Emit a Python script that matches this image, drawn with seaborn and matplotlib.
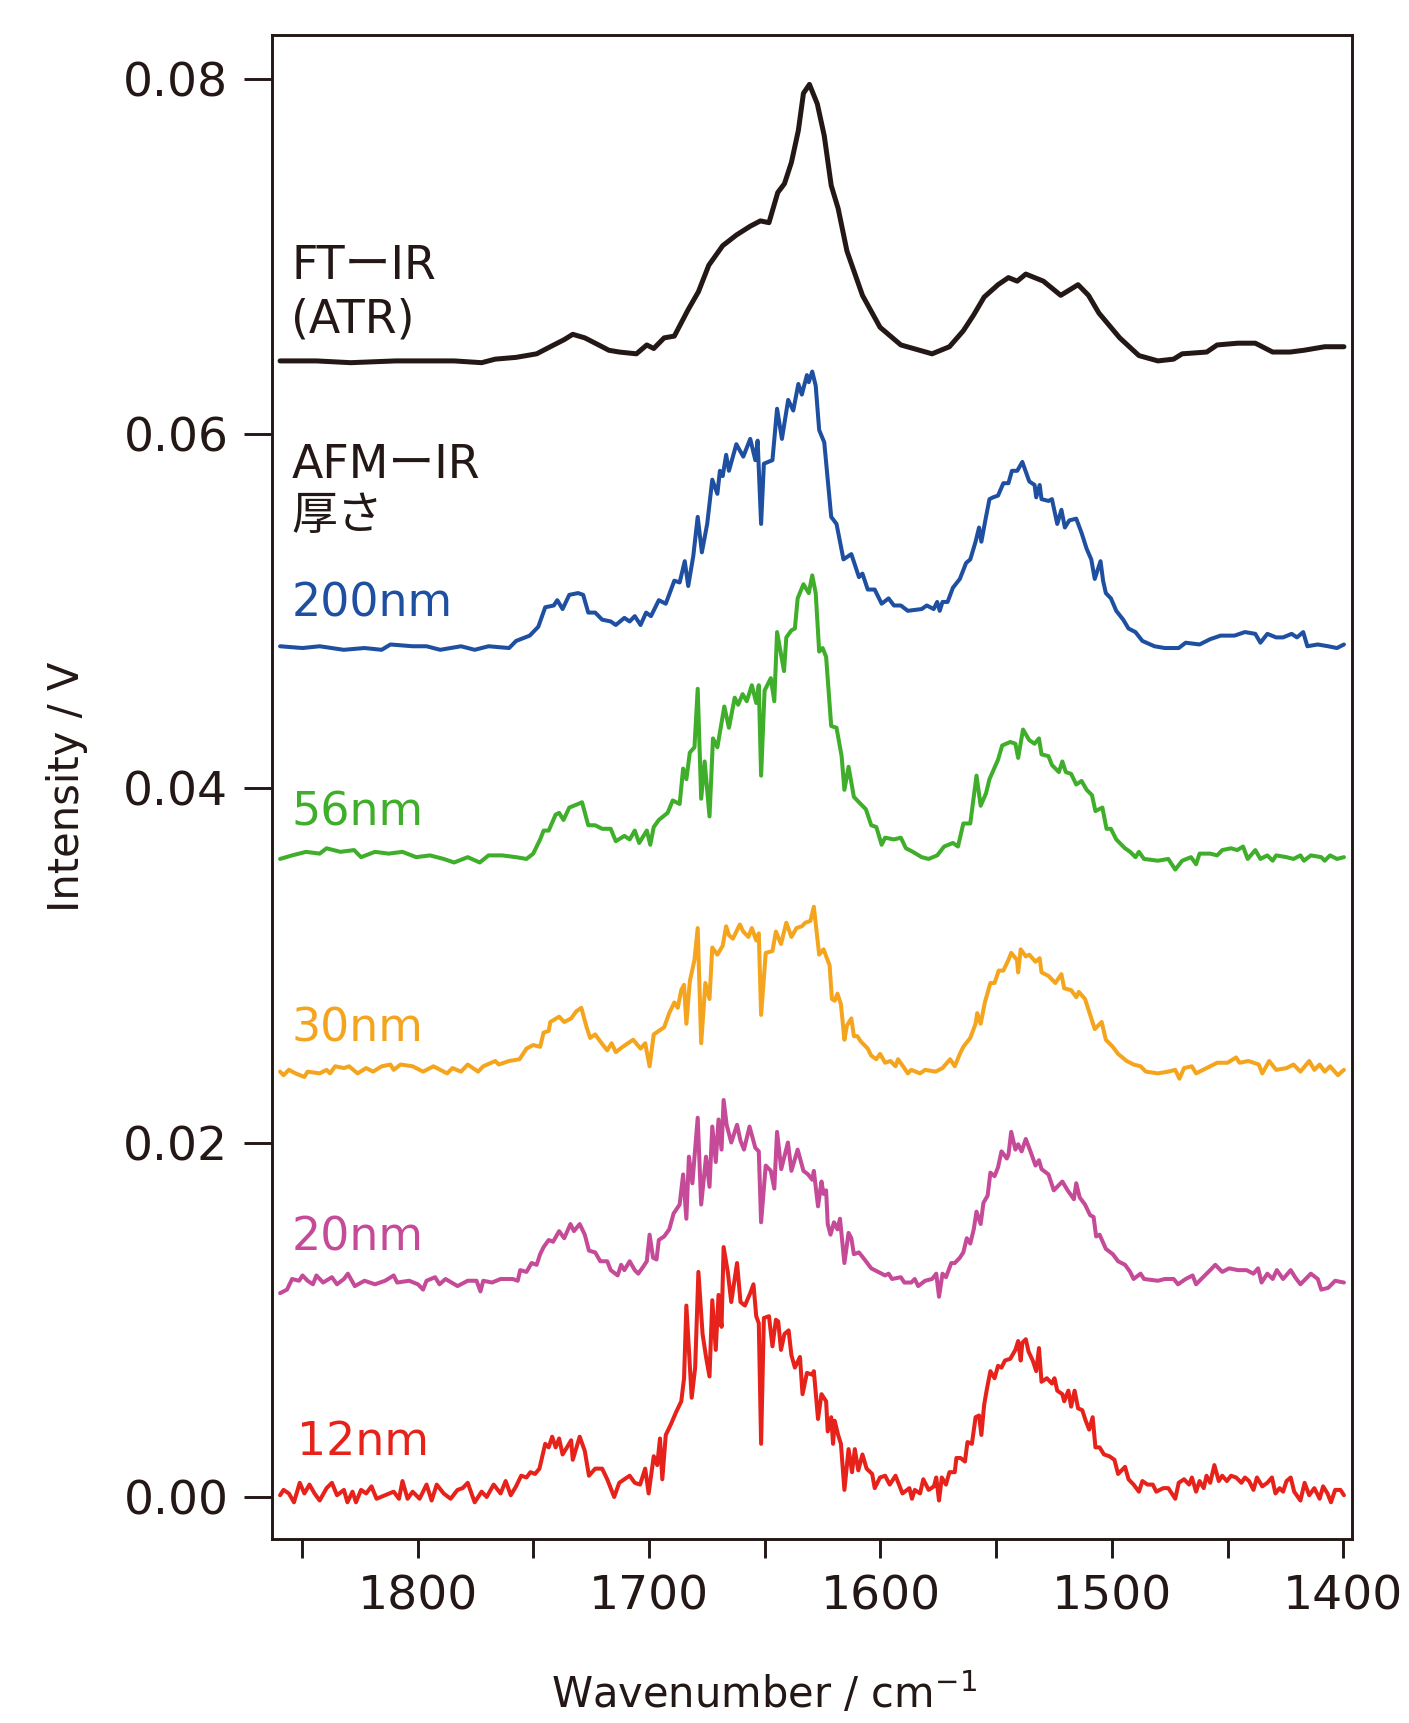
import pandas as pd
import seaborn as sns
import matplotlib
matplotlib.use('Agg')
import matplotlib.pyplot as plt
from matplotlib.ticker import MultipleLocator, FormatStrFormatter

# (wavenumber, intensity) pairs
ftir = [(1859.5, 0.0641), (1843.8, 0.0641), (1829.0, 0.0640), (1809.6, 0.0641), (1794.7, 0.0641),
        (1784.3, 0.0641), (1772.4, 0.0640), (1766.5, 0.0642), (1757.5, 0.0643), (1748.6, 0.0645),
        (1742.7, 0.0649), (1736.7, 0.0653), (1733.0, 0.0656), (1727.8, 0.0654), (1721.8, 0.0650),
        (1717.4, 0.0647), (1712.9, 0.0646), (1705.5, 0.0645), (1701.0, 0.0650), (1698.0, 0.0648),
        (1693.5, 0.0654), (1689.1, 0.0655), (1683.1, 0.0670), (1678.7, 0.0680), (1674.2, 0.0695),
        (1668.2, 0.0706), (1662.3, 0.0712), (1656.3, 0.0717), (1651.9, 0.0720), (1648.2, 0.0719),
        (1644.4, 0.0736), (1641.5, 0.0741), (1638.5, 0.0753), (1635.5, 0.0771), (1633.3, 0.0792),
        (1630.7, 0.0797), (1627.3, 0.0786), (1624.3, 0.0768), (1621.3, 0.0740), (1618.3, 0.0727),
        (1614.5, 0.0703), (1607.8, 0.0678), (1600.2, 0.0660), (1591.2, 0.0650), (1577.7, 0.0645),
        (1570.2, 0.0649), (1564.2, 0.0658), (1559.7, 0.0667), (1555.2, 0.0677), (1549.2, 0.0684),
        (1544.7, 0.0688), (1540.9, 0.0686), (1537.2, 0.0690), (1529.6, 0.0686), (1522.1, 0.0678),
        (1514.6, 0.0684), (1510.1, 0.0678), (1505.6, 0.0668), (1496.6, 0.0654), (1488.3, 0.0644),
        (1480.1, 0.0641), (1473.3, 0.0642), (1469.6, 0.0645), (1459.0, 0.0646), (1454.5, 0.0650),
        (1445.5, 0.0651), (1438.0, 0.0651), (1430.5, 0.0646), (1423.0, 0.0646), (1417.0, 0.0647),
        (1408.0, 0.0649), (1399.7, 0.0649)]

afm_200 = [(1859.5, 0.0480), (1849.8, 0.0479), (1842.4, 0.0480), (1832.0, 0.0478), (1823.0, 0.0479),
           (1815.6, 0.0478), (1811.8, 0.0481), (1802.2, 0.0480), (1796.2, 0.0480), (1790.3, 0.0478),
           (1781.3, 0.0480), (1775.4, 0.0478), (1769.4, 0.0480), (1760.5, 0.0479), (1757.5, 0.0483),
           (1751.6, 0.0486), (1747.9, 0.0491), (1744.9, 0.0502), (1741.2, 0.0503), (1739.7, 0.0506),
           (1737.4, 0.0501), (1734.5, 0.0509), (1730.7, 0.0510), (1728.5, 0.0509), (1726.3, 0.0499),
           (1723.3, 0.0499), (1720.3, 0.0495), (1716.6, 0.0494), (1714.4, 0.0492), (1710.7, 0.0496),
           (1708.4, 0.0494), (1706.2, 0.0497), (1703.7, 0.0492), (1701.3, 0.0499), (1699.2, 0.0497),
           (1695.8, 0.0506), (1692.8, 0.0504), (1689.1, 0.0517), (1686.8, 0.0516), (1684.6, 0.0528),
           (1683.1, 0.0514), (1680.9, 0.0531), (1679.0, 0.0553), (1677.2, 0.0533), (1674.9, 0.0549),
           (1672.7, 0.0574), (1670.5, 0.0566), (1669.4, 0.0579), (1668.2, 0.0576), (1666.7, 0.0588),
           (1665.5, 0.0579), (1662.3, 0.0594), (1659.3, 0.0587), (1656.3, 0.0597), (1654.1, 0.0585),
           (1653.1, 0.0596), (1651.6, 0.0549), (1650.4, 0.0583), (1646.7, 0.0585), (1644.7, 0.0614),
           (1642.6, 0.0597), (1639.9, 0.0619), (1637.7, 0.0613), (1635.5, 0.0628), (1634.0, 0.0622),
           (1631.8, 0.0633), (1631.0, 0.0629), (1629.5, 0.0635), (1628.0, 0.0627), (1626.5, 0.0602),
           (1624.3, 0.0595), (1621.3, 0.0553), (1619.0, 0.0549), (1616.0, 0.0529), (1612.6, 0.0532),
           (1609.3, 0.0519), (1607.8, 0.0521), (1605.5, 0.0512), (1602.5, 0.0512), (1599.5, 0.0504),
           (1596.5, 0.0507), (1594.2, 0.0503), (1591.2, 0.0503), (1588.2, 0.0500), (1582.2, 0.0501),
           (1580.0, 0.0503), (1577.0, 0.0501), (1575.5, 0.0505), (1574.4, 0.0500), (1573.2, 0.0505),
           (1571.0, 0.0505), (1568.7, 0.0513), (1565.7, 0.0518), (1563.0, 0.0527), (1561.2, 0.0529),
           (1558.9, 0.0539), (1557.4, 0.0547), (1556.4, 0.0539), (1554.4, 0.0553), (1552.9, 0.0563),
           (1551.4, 0.0564), (1549.2, 0.0565), (1546.9, 0.0572), (1544.7, 0.0572), (1543.2, 0.0579),
           (1540.9, 0.0579), (1538.7, 0.0584), (1535.7, 0.0573), (1533.4, 0.0571), (1532.7, 0.0564),
           (1531.2, 0.0571), (1530.4, 0.0563), (1527.4, 0.0562), (1525.9, 0.0563), (1523.6, 0.0549),
           (1521.8, 0.0557), (1520.3, 0.0547), (1518.4, 0.0551), (1515.4, 0.0552), (1513.1, 0.0544),
           (1510.9, 0.0535), (1508.9, 0.0529), (1507.4, 0.0518), (1504.9, 0.0528), (1503.8, 0.0517),
           (1502.6, 0.0510), (1500.4, 0.0507), (1498.1, 0.0500), (1495.1, 0.0495), (1492.8, 0.0490),
           (1489.8, 0.0488), (1486.8, 0.0483), (1481.6, 0.0480), (1477.1, 0.0479), (1471.1, 0.0479),
           (1468.1, 0.0482), (1462.1, 0.0481), (1457.5, 0.0484), (1453.0, 0.0486), (1447.0, 0.0486),
           (1442.5, 0.0488), (1438.0, 0.0487), (1435.8, 0.0482), (1432.8, 0.0487), (1429.0, 0.0485),
           (1426.0, 0.0485), (1422.3, 0.0487), (1420.0, 0.0485), (1417.3, 0.0488), (1415.5, 0.0480),
           (1411.0, 0.0481), (1406.5, 0.0480), (1402.7, 0.0479), (1399.7, 0.0481)]

afm_56 = [(1859.5, 0.0360), (1854.3, 0.0362), (1848.3, 0.0364), (1842.4, 0.0363), (1839.4, 0.0366),
          (1833.4, 0.0364), (1827.5, 0.0365), (1824.5, 0.0361), (1818.5, 0.0364), (1812.6, 0.0363),
          (1806.6, 0.0364), (1800.7, 0.0361), (1794.7, 0.0362), (1788.8, 0.0360), (1784.3, 0.0358),
          (1778.4, 0.0361), (1773.2, 0.0358), (1769.4, 0.0362), (1763.5, 0.0362), (1757.5, 0.0361),
          (1753.0, 0.0360), (1750.1, 0.0363), (1747.1, 0.0371), (1745.6, 0.0376), (1743.4, 0.0376),
          (1740.4, 0.0385), (1738.9, 0.0386), (1737.0, 0.0382), (1734.5, 0.0389), (1730.7, 0.0391),
          (1729.0, 0.0392), (1726.3, 0.0379), (1723.3, 0.0379), (1720.3, 0.0377), (1716.6, 0.0377),
          (1714.4, 0.0370), (1710.7, 0.0373), (1708.4, 0.0371), (1706.2, 0.0376), (1704.3, 0.0369),
          (1701.0, 0.0376), (1699.5, 0.0368), (1698.0, 0.0378), (1695.8, 0.0382), (1692.0, 0.0386),
          (1689.8, 0.0393), (1686.8, 0.0391), (1685.3, 0.0411), (1683.9, 0.0405), (1682.4, 0.0420),
          (1680.4, 0.0423), (1679.0, 0.0456), (1677.5, 0.0394), (1676.0, 0.0415), (1673.9, 0.0384),
          (1672.4, 0.0428), (1670.5, 0.0423), (1667.5, 0.0446), (1665.5, 0.0434), (1663.0, 0.0451),
          (1661.5, 0.0447), (1659.6, 0.0453), (1657.8, 0.0449), (1655.6, 0.0458), (1653.7, 0.0448),
          (1652.6, 0.0458), (1651.6, 0.0407), (1650.1, 0.0455), (1647.4, 0.0462), (1645.9, 0.0449),
          (1644.7, 0.0488), (1641.7, 0.0466), (1640.7, 0.0485), (1638.5, 0.0489), (1637.0, 0.0490),
          (1635.8, 0.0507), (1633.3, 0.0515), (1631.0, 0.0510), (1629.5, 0.0520), (1628.0, 0.0510),
          (1626.5, 0.0477), (1625.0, 0.0479), (1623.5, 0.0474), (1621.3, 0.0435), (1619.0, 0.0434),
          (1616.8, 0.0418), (1615.6, 0.0399), (1613.8, 0.0412), (1611.5, 0.0395), (1609.3, 0.0392),
          (1606.3, 0.0388), (1604.0, 0.0379), (1601.8, 0.0378), (1599.5, 0.0368), (1598.0, 0.0372),
          (1594.2, 0.0371), (1591.2, 0.0372), (1589.0, 0.0366), (1586.0, 0.0364), (1582.2, 0.0361),
          (1579.2, 0.0360), (1575.5, 0.0362), (1572.5, 0.0367), (1568.7, 0.0369), (1566.5, 0.0367),
          (1564.2, 0.0380), (1561.2, 0.0380), (1558.5, 0.0407), (1556.7, 0.0390), (1554.4, 0.0397),
          (1552.9, 0.0405), (1549.2, 0.0416), (1547.4, 0.0424), (1543.9, 0.0426), (1541.7, 0.0425),
          (1540.5, 0.0417), (1538.4, 0.0433), (1535.7, 0.0427), (1533.4, 0.0425), (1531.5, 0.0428),
          (1530.4, 0.0419), (1527.4, 0.0418), (1525.9, 0.0413), (1522.9, 0.0409), (1521.4, 0.0415),
          (1519.9, 0.0409), (1517.6, 0.0408), (1515.4, 0.0402), (1513.1, 0.0404), (1510.9, 0.0399),
          (1508.6, 0.0396), (1507.1, 0.0387), (1504.1, 0.0389), (1502.3, 0.0377), (1500.4, 0.0377),
          (1498.1, 0.0371), (1494.3, 0.0366), (1492.1, 0.0364), (1489.8, 0.0361), (1488.3, 0.0364),
          (1486.1, 0.0360), (1480.1, 0.0359), (1475.6, 0.0360), (1472.6, 0.0354), (1469.6, 0.0359),
          (1465.8, 0.0361), (1463.6, 0.0357), (1462.1, 0.0363), (1457.5, 0.0363), (1454.5, 0.0362),
          (1452.3, 0.0365), (1448.5, 0.0366), (1445.8, 0.0365), (1443.3, 0.0367), (1441.3, 0.0360),
          (1438.0, 0.0365), (1435.8, 0.0360), (1432.8, 0.0362), (1430.5, 0.0359), (1429.0, 0.0362),
          (1424.5, 0.0361), (1421.5, 0.0360), (1418.5, 0.0362), (1417.0, 0.0359), (1414.0, 0.0362),
          (1409.5, 0.0361), (1408.0, 0.0359), (1405.7, 0.0362), (1402.7, 0.0360), (1399.7, 0.0361)]

afm_30 = [(1859.5, 0.0240), (1858.0, 0.0238), (1855.7, 0.0241), (1852.8, 0.0239), (1849.0, 0.0237),
          (1847.6, 0.0240), (1842.4, 0.0239), (1839.4, 0.0241), (1837.9, 0.0239), (1835.7, 0.0243),
          (1831.9, 0.0242), (1829.7, 0.0243), (1826.0, 0.0239), (1822.3, 0.0242), (1819.3, 0.0240),
          (1815.6, 0.0243), (1811.8, 0.0244), (1810.4, 0.0241), (1807.4, 0.0244), (1802.2, 0.0243),
          (1797.7, 0.0240), (1793.2, 0.0243), (1790.3, 0.0241), (1787.3, 0.0239), (1785.0, 0.0242),
          (1781.3, 0.0240), (1778.4, 0.0244), (1773.9, 0.0240), (1771.7, 0.0243), (1766.5, 0.0246),
          (1765.0, 0.0244), (1760.5, 0.0246), (1756.0, 0.0247), (1753.0, 0.0253), (1750.1, 0.0255),
          (1747.1, 0.0254), (1745.6, 0.0262), (1743.4, 0.0263), (1742.7, 0.0268), (1738.9, 0.0271),
          (1736.7, 0.0268), (1733.7, 0.0270), (1731.5, 0.0274), (1729.3, 0.0276), (1727.0, 0.0265),
          (1725.5, 0.0259), (1723.3, 0.0261), (1721.1, 0.0257), (1718.1, 0.0252), (1716.2, 0.0256),
          (1714.4, 0.0251), (1711.4, 0.0254), (1706.9, 0.0258), (1703.7, 0.0253), (1701.7, 0.0256),
          (1699.8, 0.0243), (1698.0, 0.0261), (1695.8, 0.0263), (1693.5, 0.0265), (1691.3, 0.0273),
          (1689.1, 0.0279), (1687.6, 0.0276), (1686.1, 0.0286), (1684.9, 0.0289), (1683.9, 0.0267),
          (1682.4, 0.0291), (1680.4, 0.0303), (1679.0, 0.0321), (1677.5, 0.0256), (1675.7, 0.0290),
          (1673.9, 0.0281), (1672.7, 0.0310), (1670.5, 0.0306), (1668.2, 0.0311), (1666.7, 0.0322),
          (1665.5, 0.0317), (1663.8, 0.0315), (1660.8, 0.0323), (1659.3, 0.0319), (1657.1, 0.0316),
          (1655.6, 0.0321), (1653.7, 0.0314), (1652.6, 0.0318), (1651.6, 0.0272), (1649.6, 0.0307),
          (1646.7, 0.0308), (1645.2, 0.0319), (1643.0, 0.0312), (1640.7, 0.0324), (1638.5, 0.0316),
          (1636.3, 0.0321), (1634.0, 0.0322), (1632.5, 0.0324), (1630.3, 0.0325), (1628.8, 0.0333),
          (1626.5, 0.0306), (1624.6, 0.0309), (1622.0, 0.0300), (1621.0, 0.0281), (1619.8, 0.0280),
          (1618.6, 0.0284), (1617.1, 0.0278), (1615.6, 0.0258), (1614.5, 0.0266), (1612.6, 0.0270),
          (1611.5, 0.0260), (1610.0, 0.0260), (1608.5, 0.0257), (1605.5, 0.0253), (1604.0, 0.0249),
          (1601.8, 0.0247), (1600.2, 0.0250), (1598.0, 0.0245), (1595.7, 0.0246), (1593.5, 0.0243),
          (1592.4, 0.0247), (1589.7, 0.0242), (1588.2, 0.0239), (1586.7, 0.0241), (1582.9, 0.0239),
          (1580.7, 0.0241), (1576.2, 0.0240), (1573.2, 0.0242), (1569.9, 0.0247), (1567.9, 0.0243),
          (1565.7, 0.0250), (1564.2, 0.0254), (1561.2, 0.0259), (1558.9, 0.0267), (1558.2, 0.0273),
          (1556.7, 0.0267), (1554.9, 0.0279), (1552.5, 0.0290), (1550.7, 0.0290), (1548.9, 0.0297),
          (1546.9, 0.0297), (1544.7, 0.0303), (1543.5, 0.0307), (1541.0, 0.0303), (1540.5, 0.0296),
          (1539.4, 0.0309), (1537.2, 0.0305), (1535.7, 0.0306), (1533.0, 0.0302), (1531.2, 0.0304),
          (1530.4, 0.0296), (1527.4, 0.0294), (1524.4, 0.0290), (1521.8, 0.0295), (1520.6, 0.0287),
          (1517.6, 0.0286), (1515.4, 0.0282), (1514.3, 0.0285), (1511.6, 0.0281), (1509.4, 0.0272),
          (1507.4, 0.0264), (1504.4, 0.0268), (1502.6, 0.0258), (1499.6, 0.0254), (1497.3, 0.0250),
          (1493.6, 0.0246), (1490.6, 0.0244), (1487.6, 0.0243), (1485.3, 0.0240), (1480.1, 0.0239),
          (1475.6, 0.0240), (1472.6, 0.0241), (1470.8, 0.0236), (1468.8, 0.0242), (1465.4, 0.0243),
          (1463.6, 0.0239), (1459.1, 0.0242), (1454.5, 0.0245), (1450.0, 0.0245), (1446.3, 0.0248),
          (1444.8, 0.0245), (1441.0, 0.0246), (1436.5, 0.0244), (1435.0, 0.0239), (1432.0, 0.0246),
          (1429.0, 0.0241), (1424.5, 0.0242), (1421.5, 0.0244), (1418.5, 0.0240), (1414.7, 0.0246),
          (1412.5, 0.0241), (1410.2, 0.0244), (1408.0, 0.0240), (1405.7, 0.0243), (1402.3, 0.0238),
          (1399.7, 0.0241)]

afm_20 = [(1859.5, 0.0115), (1856.5, 0.0117), (1854.3, 0.0123), (1851.3, 0.0122), (1849.8, 0.0125),
          (1847.6, 0.0122), (1845.3, 0.0120), (1843.8, 0.0125), (1840.9, 0.0121), (1837.1, 0.0124),
          (1834.9, 0.0120), (1831.9, 0.0123), (1830.2, 0.0126), (1827.2, 0.0119), (1823.0, 0.0122),
          (1818.5, 0.0120), (1814.1, 0.0122), (1810.4, 0.0125), (1808.9, 0.0121), (1803.7, 0.0122),
          (1799.9, 0.0120), (1797.7, 0.0117), (1796.2, 0.0122), (1792.5, 0.0124), (1790.6, 0.0120),
          (1788.0, 0.0123), (1782.8, 0.0119), (1778.4, 0.0122), (1774.6, 0.0122), (1772.9, 0.0116),
          (1771.7, 0.0122), (1767.9, 0.0121), (1764.2, 0.0123), (1759.0, 0.0123), (1756.8, 0.0122),
          (1755.7, 0.0128), (1753.0, 0.0127), (1750.8, 0.0132), (1748.6, 0.0131), (1747.1, 0.0137),
          (1745.6, 0.0141), (1743.4, 0.0145), (1741.5, 0.0144), (1738.9, 0.0150), (1736.7, 0.0146),
          (1734.0, 0.0154), (1732.5, 0.0150), (1730.0, 0.0154), (1727.8, 0.0148), (1726.0, 0.0139),
          (1723.3, 0.0138), (1721.1, 0.0133), (1718.1, 0.0133), (1716.6, 0.0128), (1713.6, 0.0125),
          (1712.1, 0.0131), (1710.7, 0.0128), (1708.4, 0.0133), (1706.2, 0.0128), (1704.7, 0.0126),
          (1702.5, 0.0130), (1701.0, 0.0133), (1699.8, 0.0148), (1698.3, 0.0135), (1696.8, 0.0134),
          (1695.8, 0.0145), (1693.5, 0.0147), (1691.3, 0.0151), (1689.4, 0.0160), (1686.8, 0.0165),
          (1685.3, 0.0182), (1683.9, 0.0157), (1682.8, 0.0192), (1681.3, 0.0177), (1679.0, 0.0214),
          (1677.5, 0.0165), (1675.4, 0.0192), (1673.9, 0.0175), (1672.7, 0.0209), (1671.2, 0.0189),
          (1670.0, 0.0213), (1668.7, 0.0196), (1667.8, 0.0224), (1666.5, 0.0210), (1664.5, 0.0200),
          (1662.0, 0.0210), (1660.5, 0.0201), (1659.0, 0.0196), (1656.6, 0.0209), (1654.1, 0.0197),
          (1652.6, 0.0195), (1651.6, 0.0155), (1649.6, 0.0187), (1647.4, 0.0184), (1645.9, 0.0174),
          (1644.7, 0.0206), (1642.9, 0.0185), (1640.0, 0.0200), (1638.5, 0.0184), (1635.8, 0.0196),
          (1633.3, 0.0184), (1631.3, 0.0182), (1629.5, 0.0179), (1628.8, 0.0184), (1627.0, 0.0164),
          (1625.5, 0.0178), (1624.6, 0.0171), (1623.5, 0.0173), (1622.8, 0.0154), (1621.6, 0.0148),
          (1620.1, 0.0155), (1618.6, 0.0151), (1617.5, 0.0157), (1615.6, 0.0132), (1613.8, 0.0149),
          (1612.6, 0.0146), (1611.5, 0.0137), (1609.3, 0.0138), (1606.3, 0.0133), (1604.0, 0.0129),
          (1601.0, 0.0127), (1598.0, 0.0125), (1596.5, 0.0126), (1595.0, 0.0123), (1591.2, 0.0124),
          (1589.7, 0.0121), (1586.7, 0.0121), (1585.2, 0.0123), (1583.7, 0.0119), (1580.7, 0.0122),
          (1577.7, 0.0123), (1575.9, 0.0126), (1574.7, 0.0113), (1573.2, 0.0126), (1571.7, 0.0124),
          (1569.4, 0.0132), (1567.9, 0.0132), (1565.7, 0.0135), (1564.2, 0.0138), (1562.7, 0.0146),
          (1561.2, 0.0143), (1559.7, 0.0151), (1558.5, 0.0161), (1556.7, 0.0154), (1555.5, 0.0166),
          (1553.7, 0.0170), (1552.5, 0.0183), (1550.7, 0.0181), (1549.2, 0.0186), (1547.7, 0.0195),
          (1545.4, 0.0191), (1544.7, 0.0193), (1543.5, 0.0206), (1541.7, 0.0196), (1540.5, 0.0199),
          (1539.0, 0.0195), (1537.2, 0.0202), (1534.9, 0.0194), (1533.0, 0.0187), (1531.5, 0.0190),
          (1530.4, 0.0185), (1527.4, 0.0182), (1525.1, 0.0173), (1522.9, 0.0176), (1521.4, 0.0178),
          (1519.1, 0.0173), (1516.4, 0.0168), (1515.4, 0.0177), (1513.9, 0.0169), (1511.6, 0.0165),
          (1509.4, 0.0159), (1507.9, 0.0158), (1506.8, 0.0147), (1505.3, 0.0148), (1502.6, 0.0140),
          (1499.6, 0.0137), (1497.3, 0.0133), (1494.3, 0.0131), (1492.1, 0.0127), (1490.6, 0.0123),
          (1487.6, 0.0126), (1486.1, 0.0123), (1480.1, 0.0122), (1477.1, 0.0123), (1473.3, 0.0123),
          (1471.4, 0.0120), (1468.1, 0.0123), (1465.1, 0.0125), (1463.6, 0.0120), (1460.6, 0.0124),
          (1457.5, 0.0128), (1455.3, 0.0131), (1452.3, 0.0127), (1449.3, 0.0129), (1445.5, 0.0128),
          (1441.8, 0.0128), (1438.8, 0.0126), (1436.8, 0.0129), (1435.3, 0.0121), (1432.8, 0.0126),
          (1430.5, 0.0123), (1428.7, 0.0128), (1426.0, 0.0123), (1422.7, 0.0128), (1420.8, 0.0124),
          (1418.5, 0.0120), (1414.0, 0.0126), (1411.0, 0.0123), (1409.5, 0.0117), (1406.5, 0.0118),
          (1403.5, 0.0122), (1399.7, 0.0121)]

afm_12 = [(1859.5, 0.0001), (1858.0, 0.0004), (1855.7, 0.0002), (1853.5, -0.0003), (1851.0, 0.0008),
          (1849.0, 0.0002), (1846.8, 0.0007), (1844.6, 0.0002), (1842.4, -0.0002), (1839.4, 0.0005),
          (1837.1, 0.0008), (1834.9, 0.0001), (1831.9, 0.0004), (1830.4, -0.0003), (1828.2, 0.0003),
          (1826.7, -0.0003), (1824.5, 0.0004), (1822.3, 0.0002), (1820.0, 0.0006), (1817.8, -0.0001),
          (1814.1, 0.0001), (1810.4, 0.0003), (1808.1, -0.0001), (1806.6, 0.0009), (1804.4, -0.0001),
          (1802.2, 0.0003), (1799.2, -0.0001), (1796.2, 0.0007), (1794.0, -0.0002), (1791.8, 0.0007),
          (1788.8, 0.0002), (1785.8, -0.0001), (1782.8, 0.0004), (1780.6, 0.0005), (1778.4, 0.0008),
          (1775.4, -0.0003), (1772.4, 0.0003), (1770.2, 0.0000), (1767.2, 0.0007), (1764.2, 0.0002),
          (1762.0, 0.0009), (1759.8, 0.0001), (1757.5, 0.0006), (1755.3, 0.0012), (1753.0, 0.0011),
          (1751.3, 0.0014), (1749.3, 0.0013), (1747.4, 0.0016), (1744.9, 0.0030), (1743.4, 0.0028),
          (1741.9, 0.0034), (1740.4, 0.0028), (1738.9, 0.0033), (1737.4, 0.0024), (1735.5, 0.0028),
          (1733.7, 0.0032), (1733.0, 0.0021), (1730.0, 0.0034), (1727.8, 0.0026), (1726.0, 0.0012),
          (1723.3, 0.0016), (1720.3, 0.0016), (1718.1, 0.0010), (1715.1, 0.0000), (1712.9, 0.0008),
          (1710.7, 0.0010), (1708.4, 0.0012), (1706.2, 0.0008), (1703.9, 0.0007), (1701.7, 0.0016),
          (1700.2, 0.0002), (1698.0, 0.0023), (1696.5, 0.0018), (1695.3, 0.0033), (1694.3, 0.0010),
          (1692.8, 0.0035), (1690.6, 0.0041), (1688.3, 0.0048), (1686.1, 0.0054), (1684.9, 0.0067),
          (1683.9, 0.0108), (1681.6, 0.0056), (1680.1, 0.0073), (1678.7, 0.0127), (1676.9, 0.0092),
          (1675.4, 0.0079), (1673.9, 0.0068), (1672.7, 0.0111), (1671.2, 0.0083), (1670.0, 0.0114),
          (1668.7, 0.0096), (1667.8, 0.0141), (1666.0, 0.0127), (1664.5, 0.0110), (1662.0, 0.0132),
          (1660.5, 0.0110), (1658.6, 0.0108), (1656.3, 0.0115), (1654.9, 0.0120), (1653.7, 0.0102),
          (1652.6, 0.0098), (1651.6, 0.0030), (1650.4, 0.0101), (1648.2, 0.0102), (1646.7, 0.0085),
          (1645.2, 0.0100), (1644.2, 0.0099), (1643.0, 0.0083), (1641.5, 0.0092), (1639.7, 0.0094),
          (1638.5, 0.0080), (1637.0, 0.0073), (1634.8, 0.0079), (1633.7, 0.0058), (1631.8, 0.0070),
          (1629.5, 0.0069), (1628.8, 0.0071), (1627.0, 0.0044), (1625.5, 0.0058), (1623.5, 0.0054),
          (1622.8, 0.0037), (1621.3, 0.0045), (1620.5, 0.0030), (1619.8, 0.0043), (1618.3, 0.0035),
          (1617.1, 0.0030), (1615.6, 0.0004), (1613.8, 0.0027), (1612.3, 0.0014), (1611.1, 0.0027),
          (1609.6, 0.0015), (1607.8, 0.0024), (1606.0, 0.0016), (1603.6, 0.0013), (1602.5, 0.0005),
          (1600.2, 0.0011), (1598.0, 0.0012), (1596.0, 0.0007), (1593.5, 0.0012), (1590.5, 0.0002),
          (1587.5, 0.0005), (1586.4, -0.0001), (1585.2, 0.0004), (1582.9, 0.0002), (1581.5, 0.0010),
          (1579.2, 0.0004), (1576.9, 0.0006), (1575.9, 0.0011), (1574.7, -0.0002), (1573.5, 0.0011),
          (1571.7, 0.0007), (1570.2, 0.0014), (1567.9, 0.0014), (1567.2, 0.0022), (1565.4, 0.0022),
          (1563.5, 0.0020), (1562.4, 0.0031), (1560.5, 0.0030), (1558.9, 0.0045), (1557.4, 0.0046),
          (1556.4, 0.0035), (1555.2, 0.0052), (1554.0, 0.0061), (1552.5, 0.0071), (1550.7, 0.0067),
          (1549.2, 0.0074), (1547.7, 0.0073), (1546.2, 0.0077), (1543.9, 0.0078), (1541.7, 0.0083),
          (1540.5, 0.0088), (1539.4, 0.0077), (1538.7, 0.0087), (1537.2, 0.0089), (1536.0, 0.0082),
          (1534.2, 0.0077), (1532.7, 0.0071), (1531.5, 0.0084), (1530.4, 0.0065), (1528.1, 0.0067),
          (1525.9, 0.0064), (1524.8, 0.0067), (1523.6, 0.0060), (1521.4, 0.0058), (1520.6, 0.0054),
          (1518.8, 0.0060), (1517.6, 0.0051), (1516.1, 0.0060), (1514.6, 0.0050), (1512.8, 0.0049),
          (1511.3, 0.0043), (1509.8, 0.0038), (1508.3, 0.0045), (1507.1, 0.0028), (1505.3, 0.0028),
          (1503.4, 0.0024), (1501.1, 0.0023), (1498.9, 0.0021), (1497.3, 0.0013), (1494.3, 0.0017),
          (1492.8, 0.0010), (1490.6, 0.0007), (1488.3, 0.0003), (1486.8, 0.0009), (1484.6, 0.0007),
          (1482.3, 0.0007), (1480.8, 0.0003), (1477.8, 0.0005), (1475.6, 0.0005), (1472.6, -0.0001),
          (1471.1, 0.0008), (1468.8, 0.0010), (1466.6, 0.0007), (1465.4, 0.0011), (1463.6, 0.0003),
          (1462.1, 0.0009), (1460.3, 0.0005), (1459.1, 0.0012), (1457.5, 0.0008), (1455.7, 0.0018),
          (1453.8, 0.0009), (1452.3, 0.0012), (1450.3, 0.0009), (1448.5, 0.0012), (1446.3, 0.0011),
          (1444.0, 0.0008), (1442.5, 0.0011), (1440.7, 0.0009), (1438.8, 0.0004), (1437.3, 0.0011),
          (1435.0, 0.0006), (1432.8, 0.0008), (1430.8, 0.0011), (1429.3, 0.0002), (1427.5, 0.0005),
          (1426.0, 0.0003), (1424.5, 0.0009), (1422.7, 0.0011), (1421.2, 0.0003), (1418.5, -0.0002),
          (1416.7, 0.0008), (1414.7, 0.0001), (1412.5, 0.0005), (1410.2, -0.0001), (1408.7, 0.0006),
          (1406.8, 0.0002), (1405.3, -0.0003), (1403.5, 0.0004), (1401.2, 0.0004), (1399.7, 0.0001)]

series_names = ['FT-IR', '200nm', '56nm', '30nm', '20nm', '12nm']
series_data = [ftir, afm_200, afm_56, afm_30, afm_20, afm_12]
series_colors = ['#231815', '#1f4fa0', '#3fae2a', '#f5a41d', '#c54b98', '#e6221b']
series_widths = [3.6, 2.9, 2.9, 2.9, 2.9, 2.9]

# label text, wavenumber, intensity, colour
labels = [('FT\u30fcIR', 1854.6, 0.0694, '#231815'),
          ('(ATR)', 1854.6, 0.0664, '#231815'),
          ('AFM\u30fcIR', 1854.6, 0.0582, '#231815'),
          ('厚さ', 1854.6, 0.0553, '#231815'),
          ('200nm', 1854.6, 0.0504, '#1f4fa0'),
          ('56nm', 1854.6, 0.0386, '#3fae2a'),
          ('30nm', 1854.6, 0.0264, '#f5a41d'),
          ('20nm', 1854.6, 0.0146, '#c54b98'),
          ('12nm', 1852.0, 0.0031, '#e6221b')]

sns.set_theme(style='ticks')
plt.rcParams['font.family'] = ['DejaVu Sans', 'Noto Sans CJK JP']
plt.rcParams['axes.unicode_minus'] = False

fig = plt.figure(figsize=(14.09, 17.23), dpi=100)
ax = fig.add_axes([0.1927, 0.107, 0.7667, 0.8726])

for name, data, color, lw in zip(series_names, series_data, series_colors, series_widths):
    df = pd.DataFrame(data, columns=['wavenumber', 'intensity'])
    sns.lineplot(data=df, x='wavenumber', y='intensity', sort=False, estimator=None,
                 color=color, lw=lw, ax=ax, solid_joinstyle='round', solid_capstyle='round')

for text, x, y, color in labels:
    ax.text(x, y, text, color=color, fontsize=33, ha='left', va='center')

ax.set_xlim(1863.2, 1396.3)
ax.set_ylim(-0.00235, 0.08248)

ax.xaxis.set_major_locator(MultipleLocator(100))
ax.xaxis.set_minor_locator(MultipleLocator(50))
ax.yaxis.set_major_locator(MultipleLocator(0.02))
ax.yaxis.set_major_formatter(FormatStrFormatter('%.2f'))

ax.tick_params(axis='y', which='major', direction='out', length=20, width=2.1,
               pad=11, labelsize=34, colors='#231815')
ax.tick_params(axis='x', which='both', direction='out', length=14, width=2.1,
               pad=12, labelsize=34, colors='#231815')
ax.tick_params(top=False, right=False)

for sp in ax.spines.values():
    sp.set_visible(True)
    sp.set_linewidth(2.1)
    sp.set_color('#231815')

ax.set_xlabel('Wavenumber / cm$^{-1}$', fontsize=30, color='#231815')
ax.set_ylabel('Intensity / V', fontsize=30, color='#231815')
ax.xaxis.set_label_coords(0.456, -0.088)
ax.yaxis.set_label_coords(-0.17, 0.5)

fig.savefig('out.png', dpi=100, facecolor='white')
